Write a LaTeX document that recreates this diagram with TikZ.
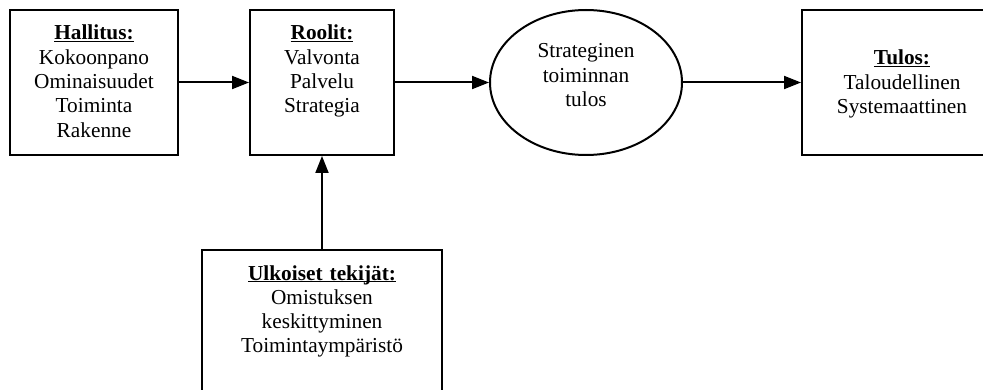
\documentclass[tikz,border=0pt]{standalone}
\usepackage{fontspec}
\setmainfont{Liberation Serif}
\usepackage{tikz}
\usetikzlibrary{arrows.meta, shapes.geometric}

\newcommand{\boxtitle}[1]{\underline{\raisebox{0pt}[\height][0pt]{\textbf{#1}}}}

\begin{document}
\begin{tikzpicture}[x=1pt, y=-1pt,
  every node/.style={font=\fontsize{21.3}{24.3}\selectfont, align=center, inner sep=0pt},
  box/.style={draw, line width=2pt, text width=#1},
  arrow/.style={-{Triangle[length=17pt,width=13pt]}, line width=2pt}]

\clip (0,0) rectangle (983,390); % edit here for the margins

\node[box=168pt, text height=30pt, text depth=115pt] (hallitus) at (94,82.5)
  {\boxtitle{Hallitus:}\\Kokoonpano\\Ominaisuudet\\Toiminta\\Rakenne};
\node[box=144pt, text height=30pt, text depth=115pt] (roolit) at (322,82.5)
  {\boxtitle{Roolit:}\\Valvonta\\Palvelu\\Strategia};
\node[ellipse, draw, line width=2pt, minimum width=192pt, minimum height=145pt,
  text width=120pt, text height=20pt, text depth=69pt] (tulos) at (586,82.5)
  {Strateginen\\toiminnan\\tulos};
\node[box=200pt, text height=55pt, text depth=90pt] (tulokset) at (902,82.5)
  {\boxtitle{Tulos:}\\Taloudellinen\\Systemaattinen};
\node[box=240pt, text height=30pt, text depth=140pt] (ulkoiset) at (322,335)
  {\boxtitle{Ulkoiset tekijät:}\\Omistuksen\\keskittyminen\\Toimintaympäristö};

\draw[arrow] (hallitus) -- (roolit);
\draw[arrow] (roolit) -- (tulos);
\draw[arrow] (tulos) -- (tulokset);
\draw[arrow] (ulkoiset) -- (roolit);

\end{tikzpicture}
\end{document}
